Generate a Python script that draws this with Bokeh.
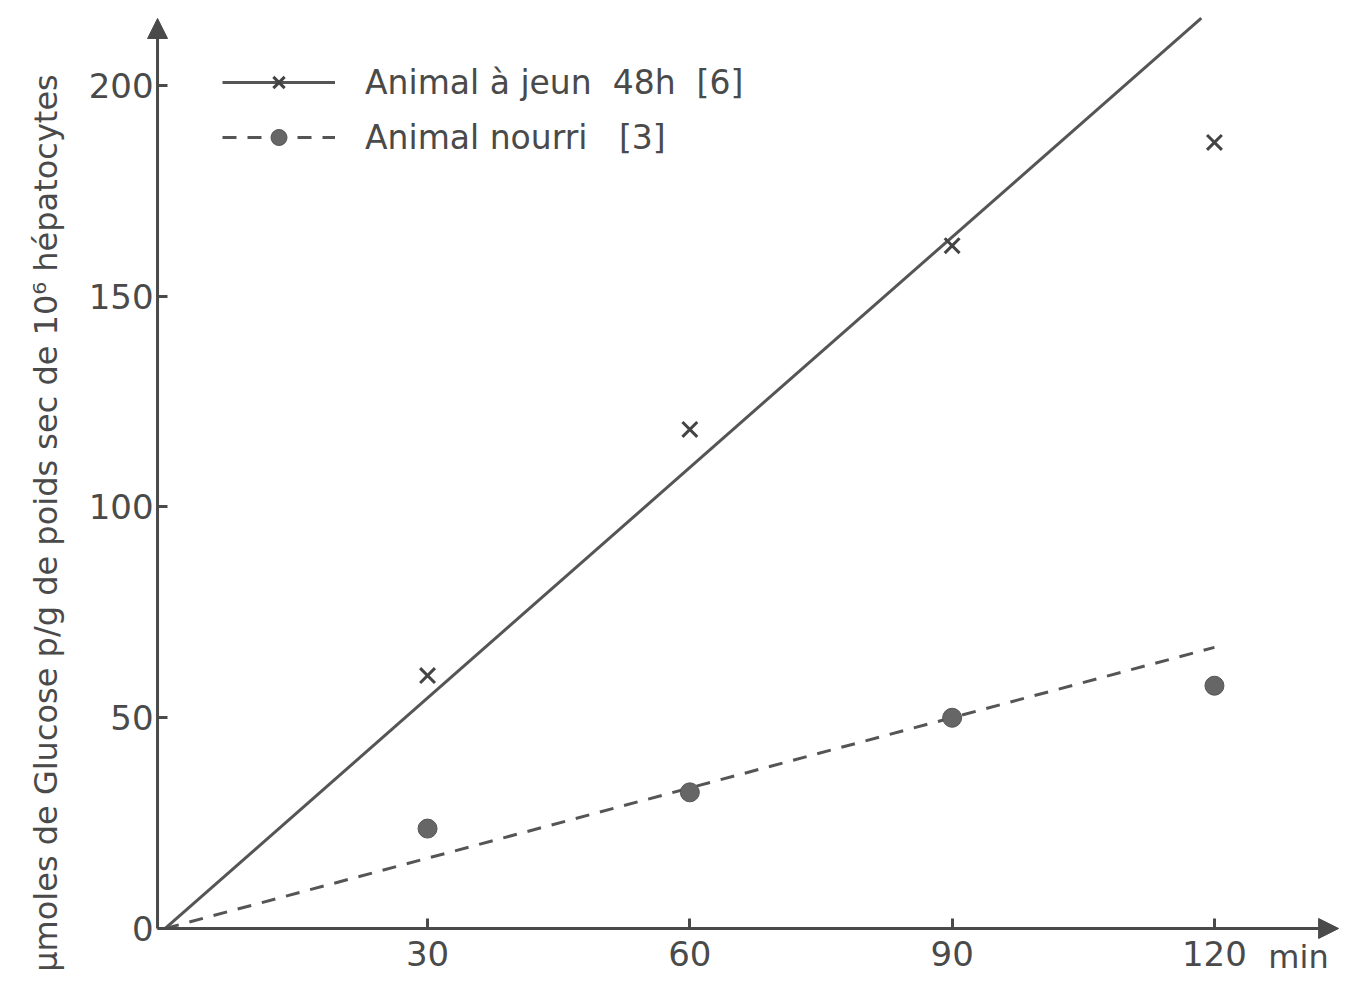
from bokeh.plotting import figure
from bokeh.models import (Legend, LegendItem, Arrow, NormalHead,
                          FixedTicker, Range1d, LinearAxis)
from bokeh.embed import file_html
from bokeh.resources import INLINE

# ---- data ----
time_min = [30, 60, 90, 120]
fasted = [60, 118.4, 162, 186.5]       # Animal à jeun 48h [6]
fed = [23.7, 32.3, 50, 57.6]           # Animal nourri [3]
fasted_fit_x = [0, 118.5]
fasted_fit_y = [0, 216]
fed_fit_x = [0, 120]
fed_fit_y = [0, 66.7]
x_ticks = [30, 60, 90, 120]
y_ticks = [0, 50, 100, 150, 200]
legend_labels = ["Animal à jeun  48h  [6]", "Animal nourri   [3]"]
x_unit = "min"
x_unit_pos = 133
y_title = "µmoles de Glucose p/g de poids sec de 10⁶ hépatocytes"

FONT = "DejaVu Sans"
INK = "#4a4a4a"
# view extents (frame = whole canvas; axes drawn at fixed locations)
XL, XR = -18.84, 134.76
YB, YT = -13.29, 220.17
AX_X = -0.88        # where the vertical axis sits
ARROW_X = 134.2     # tip of the horizontal axis arrow
ARROW_Y = 215.9     # tip of the vertical axis arrow

p = figure(width=1343, height=984, output_backend="svg", toolbar_location=None,
           x_range=Range1d(XL, XR), y_range=Range1d(YB, YT),
           min_border_left=0, min_border_right=0, min_border_top=0,
           min_border_bottom=0, background_fill_color="white",
           border_fill_color="white")
p.outline_line_color = None
p.grid.visible = False

xa = p.xaxis[0]
ya = p.yaxis[0]
xa.fixed_location = 0
ya.fixed_location = AX_X
for ax in (xa, ya):
    ax.axis_line_color = None
    ax.major_tick_in = 10
    ax.major_tick_out = 0
    ax.major_tick_line_color = INK
    ax.major_tick_line_width = 3
    ax.minor_tick_line_color = None
    ax.major_label_text_font = FONT
    ax.major_label_text_color = INK
    ax.major_label_text_font_size = "34px"

xa.ticker = FixedTicker(ticks=x_ticks)
ya.ticker = FixedTicker(ticks=y_ticks)
xa.major_label_standoff = 13
ya.major_label_standoff = 4

ya.axis_label = y_title + "\u00a0" * 6
ya.axis_label_text_font = FONT
ya.axis_label_text_font_style = "normal"
ya.axis_label_text_font_size = "32px"
ya.axis_label_text_color = INK
ya.axis_label_standoff = 21

# unit label "min" drawn by a tickless axis at y = 0
unit_axis = LinearAxis(fixed_location=0, ticker=FixedTicker(ticks=[x_unit_pos]),
                       major_label_overrides={x_unit_pos: x_unit},
                       axis_line_color=None, major_tick_line_color=None,
                       minor_tick_line_color=None, major_label_standoff=4,
                       major_label_text_font=FONT,
                       major_label_text_font_size="32px",
                       major_label_text_color=INK)
p.add_layout(unit_axis, "below")

# axes with arrow heads
p.add_layout(Arrow(end=NormalHead(size=20, fill_color=INK, line_color=INK),
                   x_start=AX_X, y_start=0, x_end=AX_X, y_end=ARROW_Y,
                   line_color=INK, line_width=3))
p.add_layout(Arrow(end=NormalHead(size=20, fill_color=INK, line_color=INK),
                   x_start=AX_X, y_start=0, x_end=ARROW_X, y_end=0,
                   line_color=INK, line_width=3))

# fit lines
l1 = p.line(fasted_fit_x, fasted_fit_y, line_color="#555555", line_width=3)
l2 = p.line(fed_fit_x, fed_fit_y, line_color="#555555", line_width=3,
            line_dash="14 11")

# points
s1 = p.scatter(time_min, fasted, marker="x", size=21, line_color="#444444",
               line_width=3)
s2 = p.scatter(time_min, fed, marker="circle", size=19, fill_color="#666666",
               line_color="#555555")

legend = Legend(items=[LegendItem(label=legend_labels[0], renderers=[l1, s1]),
                       LegendItem(label=legend_labels[1], renderers=[l2, s2])],
                location=(222, 827), glyph_width=113, glyph_height=40,
                label_height=40, spacing=15, padding=0, margin=0,
                label_standoff=30, border_line_color=None,
                background_fill_alpha=0, label_text_font=FONT,
                label_text_font_size="33px", label_text_color=INK)
p.add_layout(legend)

open("out.html", "w").write(file_html(p, INLINE))
